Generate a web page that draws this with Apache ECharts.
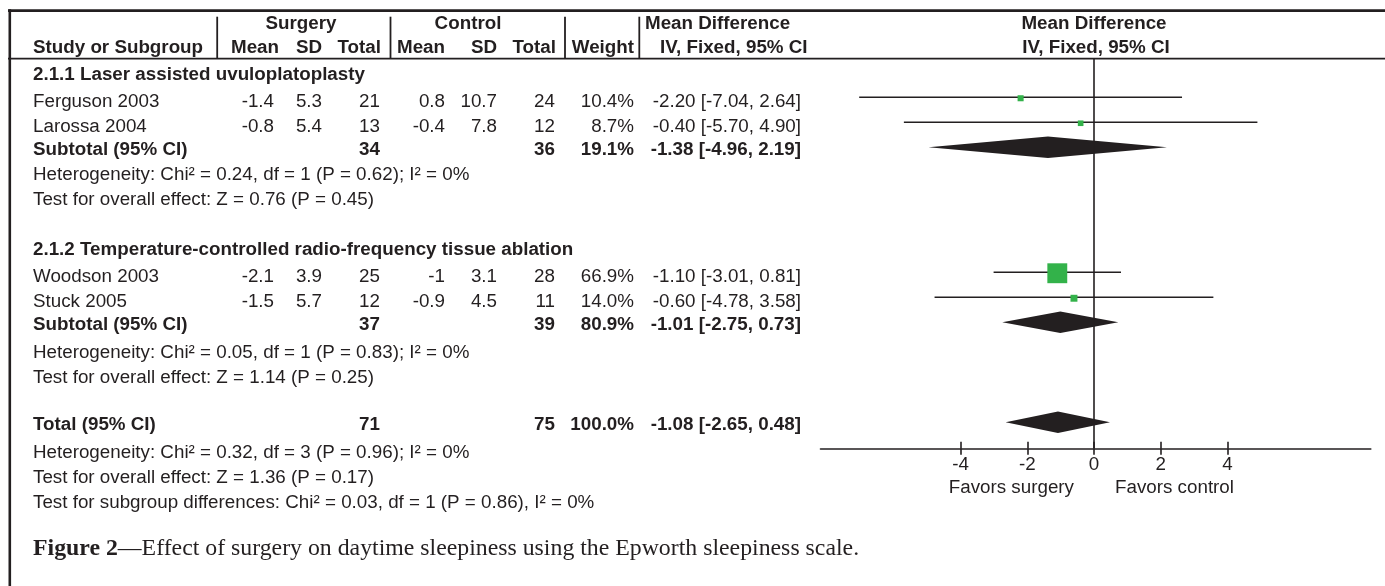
<!DOCTYPE html>
<html>
<head>
<meta charset="utf-8">
<title>Forest plot - Epworth sleepiness scale</title>
<script src="https://cdn.jsdelivr.net/npm/echarts@6/dist/echarts.min.js"></script>
<style>
  html, body { margin: 0; padding: 0; background: #fff; }
  #forest { width: 1385px; height: 586px; }
</style>
</head>
<body>
<div id="forest"></div>
<script>
// ---- data ----
var subgroupTitles = ['2.1.1 Laser assisted uvuloplatoplasty', '2.1.2 Temperature-controlled radio-frequency tissue ablation'];
var studyNames   = ['Ferguson 2003', 'Larossa 2004', 'Woodson 2003', 'Stuck 2005'];
var studyGroup   = [0, 0, 1, 1];
var surgeryMean  = [-1.4, -0.8, -2.1, -1.5];
var surgerySD    = [5.3, 5.4, 3.9, 5.7];
var surgeryN     = [21, 13, 25, 12];
var controlMean  = [0.8, -0.4, -1, -0.9];
var controlSD    = [10.7, 7.8, 3.1, 4.5];
var controlN     = [24, 12, 28, 11];
var studyWeight  = [10.4, 8.7, 66.9, 14.0];
var studyMD      = [-2.20, -0.40, -1.10, -0.60];
var studyLow     = [-7.04, -5.70, -3.01, -4.78];
var studyHigh    = [2.64, 4.90, 0.81, 3.58];

// pooled: subtotal 1, subtotal 2, total
var pooledNames   = ['Subtotal (95% CI)', 'Subtotal (95% CI)', 'Total (95% CI)'];
var pooledSurgN   = [34, 37, 71];
var pooledCtrlN   = [36, 39, 75];
var pooledWeight  = [19.1, 80.9, 100.0];
var pooledMD      = [-1.38, -1.01, -1.08];
var pooledLow     = [-4.96, -2.75, -2.65];
var pooledHigh    = [2.19, 0.73, 0.48];
var hetChi        = [0.24, 0.05, 0.32];
var hetDf         = [1, 1, 3];
var hetP          = [0.62, 0.83, 0.96];
var hetI2         = [0, 0, 0];
var effectZ       = [0.76, 1.14, 1.36];
var effectP       = [0.45, 0.25, 0.17];
var subgroupDiff  = { chi: 0.03, df: 1, p: 0.86, i2: 0 };

var xTicks = [-4, -2, 0, 2, 4];

// ---- build the table rows ----
var INK = '#231f20';
var GREEN = '#33b24a';
var FONT = '"Liberation Sans", Arial, sans-serif';
var FS = 18.8;

function hetText(k) {
  return 'Heterogeneity: Chi² = ' + hetChi[k].toFixed(2) + ', df = ' + hetDf[k] +
    ' (P = ' + hetP[k].toFixed(2) + '); I² = ' + hetI2[k] + '%';
}
function effText(k) {
  return 'Test for overall effect: Z = ' + effectZ[k].toFixed(2) + ' (P = ' + effectP[k].toFixed(2) + ')';
}
function ciText(md, lo, hi) {
  return md.toFixed(2) + ' [' + lo.toFixed(2) + ', ' + hi.toFixed(2) + ']';
}

var rows = [];
var r = 0;
subgroupTitles.forEach(function (title, g) {
  rows.push({ row: r++, kind: 'head', text: title });
  studyGroup.forEach(function (grp, i) {
    if (grp === g) rows.push({ row: r++, kind: 'study', i: i });
  });
  rows.push({ row: r++, kind: 'pooled', i: g });
  rows.push({ row: r++, kind: 'note', text: hetText(g) });
  rows.push({ row: r++, kind: 'note', text: effText(g) });
  r++; // blank line
});
rows.push({ row: r++, kind: 'pooled', i: 2 });
rows.push({ row: r++, kind: 'note', text: hetText(2) });
rows.push({ row: r++, kind: 'note', text: effText(2) });
rows.push({ row: r++, kind: 'note', text: 'Test for subgroup differences: Chi² = ' + subgroupDiff.chi.toFixed(2) +
  ', df = ' + subgroupDiff.df + ' (P = ' + subgroupDiff.p.toFixed(2) + '), I² = ' + subgroupDiff.i2 + '%' });

var studyData = [];
var pooledData = [];
rows.forEach(function (it) {
  if (it.kind === 'study') {
    var i = it.i;
    studyData.push([studyMD[i], studyLow[i], studyHigh[i], it.row, studyWeight[i]]);
  } else if (it.kind === 'pooled') {
    var k = it.i;
    pooledData.push([pooledMD[k], pooledLow[k], pooledHigh[k], it.row]);
  }
});

// table column edges (px)
var col = { name: 33, sMean: 274, sSD: 322, sN: 380, cMean: 445, cSD: 497, cN: 555, w: 634, ci: 801 };

function txt(x, y, s, align, bold) {
  return {
    type: 'text', x: x, y: y, silent: true,
    style: {
      text: s, fill: INK, align: align, textAlign: align,
      verticalAlign: 'middle', textVerticalAlign: 'middle',
      font: (bold ? 'bold ' : '') + FS + 'px ' + FONT
    }
  };
}

function renderRow(params, api) {
  var it = rows[params.dataIndex];
  var shift = it.kind === 'study' ? 0.07 : (it.kind === 'note' && it.row > 6 ? 0.12 : 0);
  var y = api.coord([0, api.value(1) + shift])[1];
  var X = function (px) { return api.coord([px, 0])[0]; };
  var kids = [];
  if (it.kind === 'head') {
    kids.push(txt(X(col.name), y, it.text, 'left', true));
  } else if (it.kind === 'note') {
    kids.push(txt(X(col.name), y, it.text, 'left', false));
  } else if (it.kind === 'study') {
    var i = it.i;
    kids.push(txt(X(col.name), y, studyNames[i], 'left', false));
    kids.push(txt(X(col.sMean), y, String(surgeryMean[i]), 'right', false));
    kids.push(txt(X(col.sSD), y, String(surgerySD[i]), 'right', false));
    kids.push(txt(X(col.sN), y, String(surgeryN[i]), 'right', false));
    kids.push(txt(X(col.cMean), y, String(controlMean[i]), 'right', false));
    kids.push(txt(X(col.cSD), y, String(controlSD[i]), 'right', false));
    kids.push(txt(X(col.cN), y, String(controlN[i]), 'right', false));
    kids.push(txt(X(col.w), y, studyWeight[i].toFixed(1) + '%', 'right', false));
    kids.push(txt(X(col.ci), y, ciText(studyMD[i], studyLow[i], studyHigh[i]), 'right', false));
  } else if (it.kind === 'pooled') {
    var k = it.i;
    kids.push(txt(X(col.name), y, pooledNames[k], 'left', true));
    kids.push(txt(X(col.sN), y, String(pooledSurgN[k]), 'right', true));
    kids.push(txt(X(col.cN), y, String(pooledCtrlN[k]), 'right', true));
    kids.push(txt(X(col.w), y, pooledWeight[k].toFixed(1) + '%', 'right', true));
    kids.push(txt(X(col.ci), y, ciText(pooledMD[k], pooledLow[k], pooledHigh[k]), 'right', true));
  }
  return { type: 'group', children: kids };
}

function renderStudy(params, api) {
  var row = api.value(3);
  var a = api.coord([api.value(1), row]);
  var b = api.coord([api.value(2), row]);
  var c = api.coord([api.value(0), row]);
  var s = 3.5 + 0.245 * api.value(4);
  return {
    type: 'group',
    children: [
      { type: 'line', shape: { x1: a[0], y1: a[1], x2: b[0], y2: b[1] }, style: { stroke: INK, lineWidth: 1.6 } },
      { type: 'rect', shape: { x: c[0] - s / 2, y: c[1] - s / 2 + 1, width: s, height: s }, style: { fill: GREEN } }
    ]
  };
}

function renderDiamond(params, api) {
  var row = api.value(3);
  var lo = api.coord([api.value(1), row]);
  var hi = api.coord([api.value(2), row]);
  var mid = api.coord([api.value(0), row]);
  var h = 10.8;
  return {
    type: 'polygon',
    shape: { points: [[lo[0], lo[1]], [mid[0], mid[1] - h], [hi[0], hi[1]], [mid[0], mid[1] + h]] },
    style: { fill: INK }
  };
}

var chart = echarts.init(document.getElementById('forest'));

function hline(x1, x2, y, w) {
  return { type: 'line', silent: true, shape: { x1: x1, y1: y, x2: x2, y2: y }, style: { stroke: INK, lineWidth: w } };
}
function vline(x, y1, y2, w) {
  return { type: 'line', silent: true, shape: { x1: x, y1: y1, x2: x, y2: y2 }, style: { stroke: INK, lineWidth: w } };
}

var forestGrid = { left: 820.5, top: 58.5, width: 550.3, height: 389.8 };

var option = {
  backgroundColor: '#fff',
  animation: false,
  grid: [
    { left: 0, top: 58, width: 1385, height: 475 },   // table text
    forestGrid,                                        // forest plot
    Object.assign({}, forestGrid)                      // same box, for the upward ticks
  ],
  xAxis: [
    { gridIndex: 0, type: 'value', min: 0, max: 1385, show: false },
    {
      gridIndex: 1, type: 'value', min: -8.2, max: 8.3, position: 'bottom',
      splitLine: { show: false },
      axisLine: { show: true, onZero: false, lineStyle: { color: INK, width: 1.6 } },
      axisTick: { show: true, length: 6.5, customValues: xTicks, lineStyle: { color: INK, width: 1.6 } },
      axisLabel: { show: true, customValues: xTicks, margin: 7, color: INK, fontSize: FS, fontFamily: FONT }
    },
    {
      gridIndex: 2, type: 'value', min: -8.2, max: 8.3, position: 'bottom',
      splitLine: { show: false },
      axisLine: { show: false, onZero: false },
      axisTick: { show: true, inside: true, length: 6.5, customValues: xTicks, lineStyle: { color: INK, width: 1.6 } },
      axisLabel: { show: false }
    }
  ],
  yAxis: [
    { gridIndex: 0, type: 'value', min: -0.68, max: 18.32, inverse: true, show: false },
    { gridIndex: 1, type: 'value', min: -0.55, max: 15.042, inverse: true, show: false },
    { gridIndex: 2, type: 'value', min: 0, max: 1, show: false }
  ],
  series: [
    {
      type: 'custom', name: 'table', xAxisIndex: 0, yAxisIndex: 0,
      data: rows.map(function (it) { return [0, it.row]; }),
      encode: { x: 0, y: 1 },
      renderItem: renderRow, silent: true
    },
    {
      type: 'custom', name: 'pooled', xAxisIndex: 1, yAxisIndex: 1,
      data: pooledData, encode: { x: [0, 1, 2], y: 3 },
      renderItem: renderDiamond, silent: true, z: 2
    },
    {
      type: 'custom', name: 'studies', xAxisIndex: 1, yAxisIndex: 1,
      data: studyData, encode: { x: [0, 1, 2], y: 3 },
      renderItem: renderStudy, silent: true, z: 3,
      markLine: {
        silent: true, symbol: 'none', animation: false,
        label: { show: false },
        lineStyle: { color: INK, width: 1.6, type: 'solid' },
        data: [{ xAxis: 0 }]
      }
    }
  ],
  graphic: [
    // frame and header rules
    hline(8, 1385, 10.6, 2.6),
    vline(9.8, 9.3, 586, 2.6),
    hline(8, 1385, 58.6, 1.8),
    vline(217.2, 16.7, 58, 1.8),
    vline(390.5, 16.7, 58, 1.8),
    vline(565, 16.7, 58, 1.8),
    vline(639.3, 16.7, 58, 1.8),
    // header text
    txt(301, 24, 'Surgery', 'center', true),
    txt(468, 24, 'Control', 'center', true),
    txt(645, 24, 'Mean Difference', 'left', true),
    txt(1094, 24, 'Mean Difference', 'center', true),
    txt(33, 48.3, 'Study or Subgroup', 'left', true),
    txt(279, 48.3, 'Mean', 'right', true),
    txt(322, 48.3, 'SD', 'right', true),
    txt(381, 48.3, 'Total', 'right', true),
    txt(445, 48.3, 'Mean', 'right', true),
    txt(497, 48.3, 'SD', 'right', true),
    txt(556, 48.3, 'Total', 'right', true),
    txt(634, 48.3, 'Weight', 'right', true),
    txt(660, 48.3, 'IV, Fixed, 95% CI', 'left', true),
    txt(1096, 48.3, 'IV, Fixed, 95% CI', 'center', true),
    // axis captions
    txt(1074, 487.5, 'Favors surgery', 'right', false),
    txt(1115, 487.5, 'Favors control', 'left', false),
    // figure caption
    {
      type: 'text', x: 33, y: 549, silent: true,
      style: {
        text: '{b|Figure 2}{r|—Effect of surgery on daytime sleepiness using the Epworth sleepiness scale.}',
        fill: INK, verticalAlign: 'middle', textVerticalAlign: 'middle',
        rich: {
          b: { fontFamily: '"Liberation Serif", "Times New Roman", serif', fontWeight: 'bold', fontSize: 23.8, fill: INK, color: INK },
          r: { fontFamily: '"Liberation Serif", "Times New Roman", serif', fontSize: 23.8, fill: INK, color: INK }
        }
      }
    }
  ]
};

chart.setOption(option);
window.addEventListener('resize', function () { chart.resize(); });
</script>
</body>
</html>
